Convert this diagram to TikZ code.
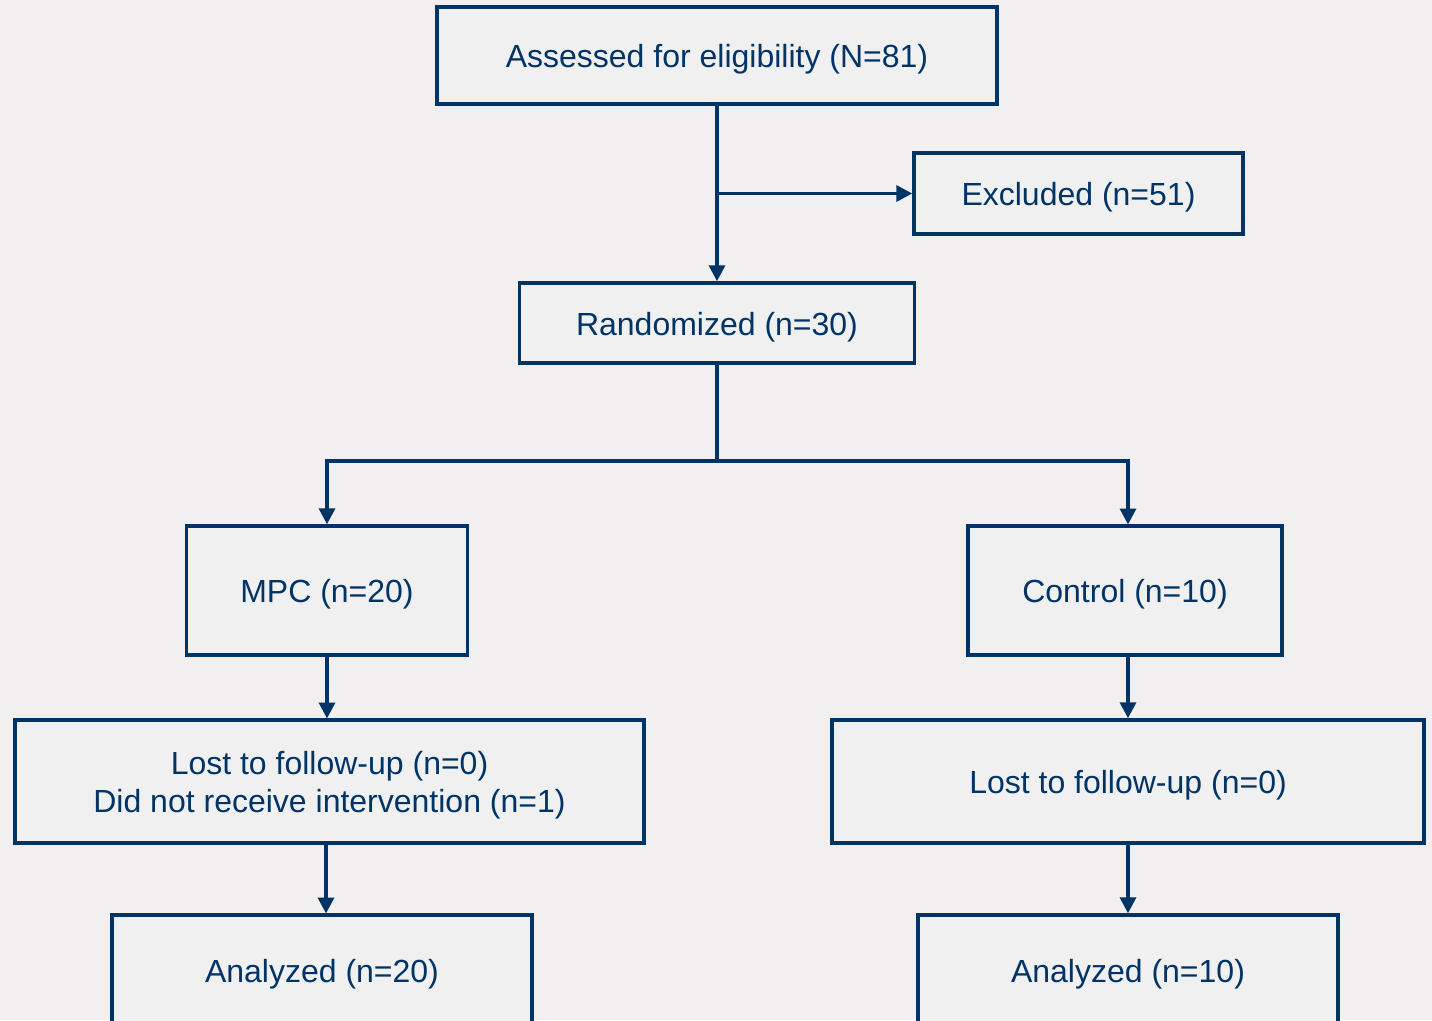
\documentclass[tikz,border=0pt]{standalone}
\usepackage{fontspec}
\setmainfont{Liberation Sans}
\usetikzlibrary{arrows.meta}
\definecolor{navy}{HTML}{003366}
\definecolor{bgc}{HTML}{F2EFF0}
\definecolor{boxc}{HTML}{F0F0F0}
\begin{document}
\begin{tikzpicture}[x=1pt,y=-1pt,
  box/.style={draw=navy,fill=boxc,line width=3.5pt,inner sep=0pt},
  lab/.style={text=navy,align=center,yshift=-4pt,font=\fontsize{32}{38}\selectfont},
  conn/.style={draw=navy,line width=3.5pt},
  arr/.style={conn,-{Triangle[length=16pt,width=16pt]}}]
\fill[bgc] (0,0) rectangle (1432,1020);
\useasboundingbox (0,0) rectangle (1432,1020);
\begin{scope}
\clip (0,0) rectangle (1432,1020);
\node[box,minimum width=560,minimum height=97,label={[lab]center:Assessed for eligibility (N=81)}] (assess) at (717,55.5) {};
\node[box,minimum width=329,minimum height=81,label={[lab]center:Excluded (n=51)}] (excl) at (1078.5,193.5) {};
\node[box,minimum width=395,minimum height=80,label={[lab]center:Randomized (n=30)}] (rand) at (717,323) {};
\node[box,minimum width=281,minimum height=129,label={[lab]center:MPC (n=20)}] (mpc) at (327,590.5) {};
\node[box,minimum width=314,minimum height=129,label={[lab]center:Control (n=10)}] (ctrl) at (1125,590.5) {};
\node[box,minimum width=629,minimum height=123,label={[lab]center:Lost to follow-up (n=0)\\Did not receive intervention (n=1)}] (lostl) at (329.5,781.5) {};
\node[box,minimum width=592,minimum height=123,label={[lab]center:Lost to follow-up (n=0)}] (lostr) at (1128,781.5) {};
\node[box,minimum width=420,minimum height=110,label={[lab]center:Analyzed (n=20)}] (anl) at (322,970) {};
\node[box,minimum width=420,minimum height=110,label={[lab]center:Analyzed (n=10)}] (anr) at (1128,970) {};
\coordinate (split) at (717,193.5);
\coordinate (fork) at (717,461);
\coordinate (ctop) at (1128,524.5);
\coordinate (lltop) at (327,718.5);
\coordinate (llbot) at (326,843);
\coordinate (altop) at (326,913.5);
\draw[arr] (assess.south) -- (rand.north);
\draw[arr] (split) -- (excl.west);
\draw[conn] (rand.south) -- (fork);
\draw[arr] (fork) -| (mpc.north);
\draw[arr] (fork) -| (ctop);
\draw[arr] (mpc.south) -- (lltop);
\draw[arr] (ctrl.south -| ctop) -- (lostr.north);
\draw[arr] (llbot) -- (altop);
\draw[arr] (lostr.south) -- (anr.north);
\end{scope}
\end{tikzpicture}
\end{document}
